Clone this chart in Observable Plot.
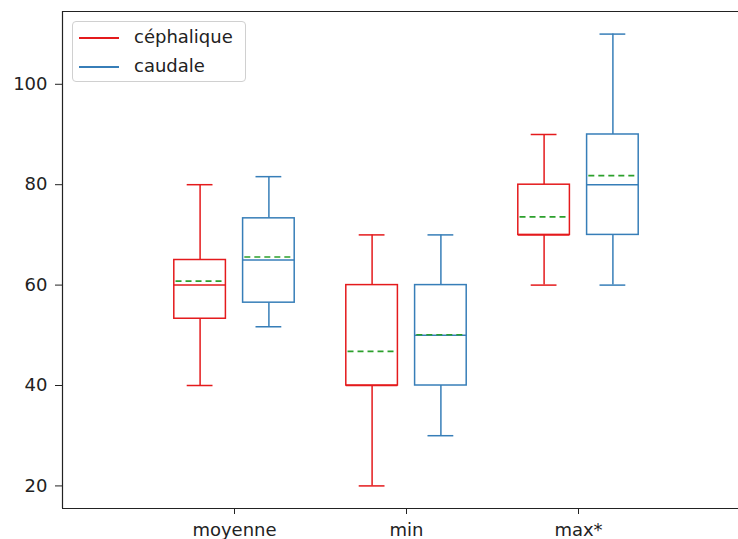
<!DOCTYPE html>
<html>
<head>
<meta charset="utf-8">
<script src="https://cdn.jsdelivr.net/npm/d3@7"></script>
<script src="https://cdn.jsdelivr.net/npm/@observablehq/plot@0.6"></script>
<style>
  html, body { margin: 0; padding: 0; background: #fff; overflow: hidden; }
  #wrap { position: relative; width: 738px; height: 539px; font-family: "DejaVu Sans", sans-serif; }
  #legend { position: absolute; left: 72px; top: 21px; width: 172px; height: 59px;
    border: 1px solid #d0d0d0; border-radius: 4px; background: rgba(255,255,255,0.85); }
  .item { position: absolute; left: 0; height: 20px; width: 170px; }
  .item .sw { position: absolute; left: 6px; width: 40px; top: 9px; height: 0; border-top: 2px solid; }
  .item .lbl { position: absolute; left: 61px; top: -2px; font-size: 18px; color: #222; line-height: 22px; }
</style>
</head>
<body>
<div id="wrap"></div>
<script>
// ---- data ----
const categories = ["moyenne", "min", "max*"];
const series = ["céphalique", "caudale"];
const colors = ["#e41a1c", "#377eb8"];
const meanColor = "#2ca02c";

const cephLow    = [40, 20, 60];
const cephQ1     = [53.3, 40, 70];
const cephMedian = [60, 40, 70];
const cephMean   = [60.8, 46.8, 73.6];
const cephQ3     = [65, 60, 80];
const cephHigh   = [80, 70, 90];

const caudLow    = [51.7, 30, 60];
const caudQ1     = [56.5, 40, 70];
const caudMedian = [65, 50, 80];
const caudMean   = [65.6, 50.1, 81.8];
const caudQ3     = [73.3, 60, 90];
const caudHigh   = [81.6, 70, 110];

const yTicks = [20, 40, 60, 80, 100];
const yDomain = [15.5, 114.5];

// ---- build table ----
const stats = [
  {low: cephLow, q1: cephQ1, median: cephMedian, mean: cephMean, q3: cephQ3, high: cephHigh},
  {low: caudLow, q1: caudQ1, median: caudMedian, mean: caudMean, q3: caudQ3, high: caudHigh}
];
const offsets = [-0.2, 0.2];
const halfBox = 0.15, halfCap = 0.075;
const rows = [];
series.forEach((s, si) => {
  categories.forEach((c, ci) => {
    const st = stats[si];
    rows.push({
      series: s, category: c, pos: ci + 1 + offsets[si],
      low: st.low[ci], q1: st.q1[ci], median: st.median[ci], mean: st.mean[ci],
      q3: st.q3[ci], high: st.high[ci]
    });
  });
});

const W = 738, H = 539, ML = 62;
const groupStep = 172; // px per category unit
const xMax = (W - ML) / groupStep;

const sw = 1.5;
const chart = Plot.plot({
  width: W, height: H,
  marginLeft: ML, marginRight: 0, marginTop: 11, marginBottom: 31,
  style: {fontFamily: "DejaVu Sans, sans-serif", fontSize: "18px", color: "#222", background: "#fff"},
  x: {domain: [0, xMax], label: null},
  y: {domain: yDomain, label: null},
  color: {domain: series, range: colors},
  marks: [
    // spines
    Plot.ruleX([0], {stroke: "#222", strokeWidth: 1.2}),
    Plot.ruleY([yDomain[0]], {stroke: "#222", strokeWidth: 1.2}),
    Plot.ruleY([yDomain[1]], {stroke: "#222", strokeWidth: 1.2}),
    // whiskers
    Plot.ruleX(rows, {x: "pos", y1: "low", y2: "q1", stroke: "series", strokeWidth: sw}),
    Plot.ruleX(rows, {x: "pos", y1: "q3", y2: "high", stroke: "series", strokeWidth: sw}),
    // caps
    Plot.ruleY(rows, {y: "low", x1: d => d.pos - halfCap, x2: d => d.pos + halfCap, stroke: "series", strokeWidth: sw}),
    Plot.ruleY(rows, {y: "high", x1: d => d.pos - halfCap, x2: d => d.pos + halfCap, stroke: "series", strokeWidth: sw}),
    // boxes
    Plot.rect(rows, {x1: d => d.pos - halfBox, x2: d => d.pos + halfBox, y1: "q1", y2: "q3",
      fill: "white", stroke: "series", strokeWidth: sw}),
    // medians
    Plot.ruleY(rows, {y: "median", x1: d => d.pos - halfBox, x2: d => d.pos + halfBox, stroke: "series", strokeWidth: sw}),
    // means
    Plot.ruleY(rows, {y: "mean", x1: d => d.pos - halfBox + 0.01, x2: d => d.pos + halfBox - 0.01,
      stroke: meanColor, strokeWidth: 1.6, strokeDasharray: "6,4"}),
    // axes
    Plot.axisY(yTicks, {tickSize: 7, tickPadding: 8, fontSize: 18, stroke: "#222", fill: "#222", label: null}),
    Plot.axisX([1, 2, 3], {tickFormat: d => categories[d - 1], tickSize: 6, tickPadding: 9,
      fontSize: 18, stroke: "#222", fill: "#222", label: null})
  ]
});

const wrap = document.getElementById("wrap");
wrap.appendChild(chart);

// legend
const legend = document.createElement("div");
legend.id = "legend";
series.forEach((s, i) => {
  const it = document.createElement("div");
  it.className = "item";
  it.style.top = (i === 0 ? 6 : 35) + "px";
  const swatch = document.createElement("div");
  swatch.className = "sw";
  swatch.style.borderTopColor = colors[i];
  const lbl = document.createElement("div");
  lbl.className = "lbl";
  lbl.textContent = s;
  it.appendChild(swatch); it.appendChild(lbl);
  legend.appendChild(it);
});
wrap.appendChild(legend);
</script>
</body>
</html>
